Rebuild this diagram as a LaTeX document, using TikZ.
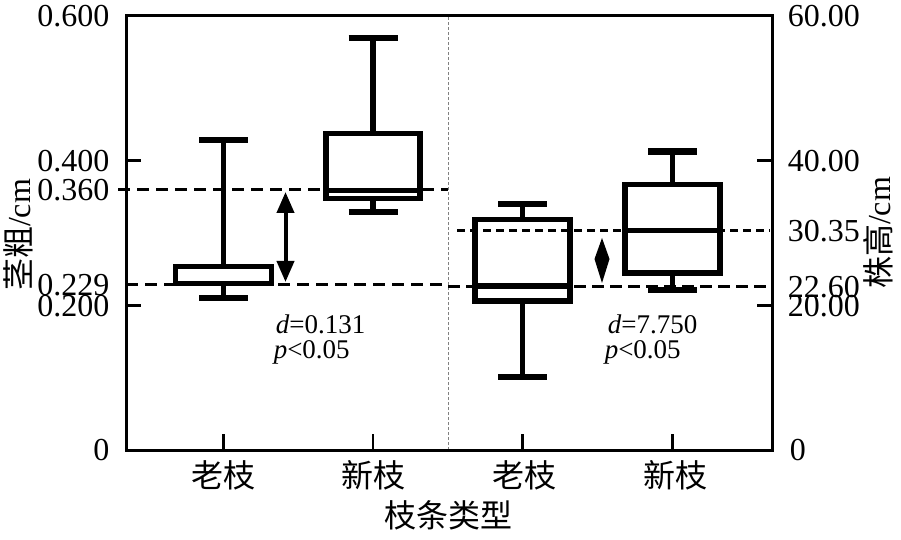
\documentclass[tikz,border=0pt]{standalone}
\usepackage{fontspec}
\setmainfont{Liberation Serif}
\newfontfamily\cjk{Noto Sans CJK SC}
\usetikzlibrary{arrows.meta}

\begin{document}
\begin{tikzpicture}[x=1pt, y=723.33pt, line width=5.5pt,
        every node/.append style={font=\fontsize{32}{36}\selectfont, inner sep=0pt}]
      \tikzstyle{axtick} = [line width=2.5pt]
      \tikzstyle{whiskcap} = [line width=6.5pt]
      \tikzstyle{lnum} = [anchor=east, text height=21.6pt, text depth=0pt]
      \tikzstyle{rnum} = [anchor=west, text height=21.6pt, text depth=0pt]
      \tikzstyle{stat} = [anchor=base west, font=\fontsize{27}{30}\selectfont]
      \useasboundingbox (0pt,-89pt) rectangle (901pt,450pt);
      % frame, divider and ticks
      \draw[gray, line width=1pt, dash pattern=on 3pt off 2pt] (448,0) -- (448,0.6);
      \draw[line width=3pt] (126,0) rectangle (772,0.6);
      \draw[axtick] (126,0.4) -- (141,0.4);  \draw[axtick] (126,0.2) -- (141,0.2);
      \draw[axtick] (757,0.4) -- (772,0.4);  \draw[axtick] (757,0.2) -- (772,0.2);
      \draw[axtick] (223.5,0) -- (223.5,0.0221);  \draw[axtick] (373,0) -- (373,0.0221);
      \draw[axtick] (522.5,0) -- (522.5,0.0221);  \draw[axtick] (672.5,0) -- (672.5,0.0221);
      % old shoots, stem
      \draw (223.5,0.4286) -- (223.5,0.2537);  \draw (223.5,0.2302) -- (223.5,0.2101);
      \draw[whiskcap] (199,0.4286) -- (248,0.4286);  \draw[whiskcap] (199,0.2101) -- (248,0.2101);
      \draw (175.5,0.2302) rectangle (271.5,0.2537);
      % new shoots, stem
      \draw (373,0.5696) -- (373,0.4378);  \draw (373,0.3477) -- (373,0.329);
      \draw[whiskcap] (348.5,0.5696) -- (397.5,0.5696);  \draw[whiskcap] (348.5,0.329) -- (397.5,0.329);
      \draw (326,0.3477) rectangle (420,0.4378);  \draw (326,0.3588) -- (420,0.3588);
      % old shoots, height
      \draw (522.5,0.3401) -- (522.5,0.3184);  \draw (522.5,0.206) -- (522.5,0.1009);
      \draw[whiskcap] (498,0.3401) -- (547,0.3401);  \draw[whiskcap] (498,0.1009) -- (547,0.1009);
      \draw (475,0.206) rectangle (570,0.3184);  \draw (475,0.227) -- (570,0.227);
      % new shoots, height
      \draw (672.5,0.4124) -- (672.5,0.3668);  \draw (672.5,0.2447) -- (672.5,0.2212);
      \draw[whiskcap] (648,0.4124) -- (697,0.4124);  \draw[whiskcap] (648,0.2212) -- (697,0.2212);
      \draw (625,0.2447) rectangle (720,0.3668);  \draw (625,0.3035) -- (720,0.3035);
      % median lines
      \draw[line width=3pt, dash pattern=on 12pt off 7pt] (118,0.36) -- (448,0.36);
      \draw[line width=3.5pt, dash pattern=on 12pt off 7pt] (126,0.229) -- (448,0.229);
      \draw[line width=2.5pt, dash pattern=on 8pt off 5pt] (457,0.3035) -- (770,0.3035);
      \draw[line width=3.5pt, dash pattern=on 12pt off 6pt] (448,0.226) -- (772,0.226);
      \coordinate (gapTop) at (285.5,0.3567);
      \coordinate (gapBot) at (285.5,0.2323);
      \coordinate (difTop) at (602,0.2931);
      \coordinate (difBot) at (602,0.2309);
      \draw[line width=4pt, {Triangle[length=21pt,width=17pt]}-{Triangle[length=21pt,width=17pt]}] (gapTop) -- (gapBot);
      \fill (difTop) -- ++(7.5pt,-21pt) -- (difBot) -- ++(-7.5pt,24pt) -- cycle;
      % axis numbers
      \node (L600) [lnum] at (112,0.6) {0.600};
      \node (L400) [lnum] at (112,0.4) {0.400};
      \node (L360) [lnum] at (112,0.36) {0.360};
      \node (L229) [lnum] at (112,0.229) {0.229};
      \node (L200) [lnum] at (112,0.2) {0.200};
      \node (L0) [lnum] at (112,0) {0};
      \node (R6000) [rnum] at (785,0.6) {60.00};
      \node (R4000) [rnum] at (785,0.4) {40.00};
      \node (R3035) [rnum] at (785,0.3035) {30.35};
      \node (R2260) [rnum] at (785,0.226) {22.60};
      \node (R2000) [rnum] at (785,0.2) {20.00};
      \node (R0) [rnum] at (787,0) {0};
      % category and axis titles
      \node (OldA) at (223.5pt,-25pt) {\cjk 老枝};
      \node (NewA) at (373.5pt,-25pt) {\cjk 新枝};
      \node (OldB) at (524pt,-25pt) {\cjk 老枝};
      \node (NewB) at (675pt,-25pt) {\cjk 新枝};
      \node (Type) at (448pt,-65pt) {\cjk 枝条类型};
      \node (Stem) [rotate=90] at (18pt,215pt) {{\cjk 茎粗}/cm};
      \node (Height) [rotate=90] at (878pt,217pt) {{\cjk 株高}/cm};
      % test results
      \node (dStem) [stat] at (273pt,116.7pt) {\textit{d}=0.131};
      \node (pStem) [stat] at (271pt,91.7pt) {\textit{p}<0.05};
      \node (dHeight) [stat] at (605pt,116.7pt) {\textit{d}=7.750};
      \node (pHeight) [stat] at (602pt,91.7pt) {\textit{p}<0.05};
    \end{tikzpicture}
\end{document}
